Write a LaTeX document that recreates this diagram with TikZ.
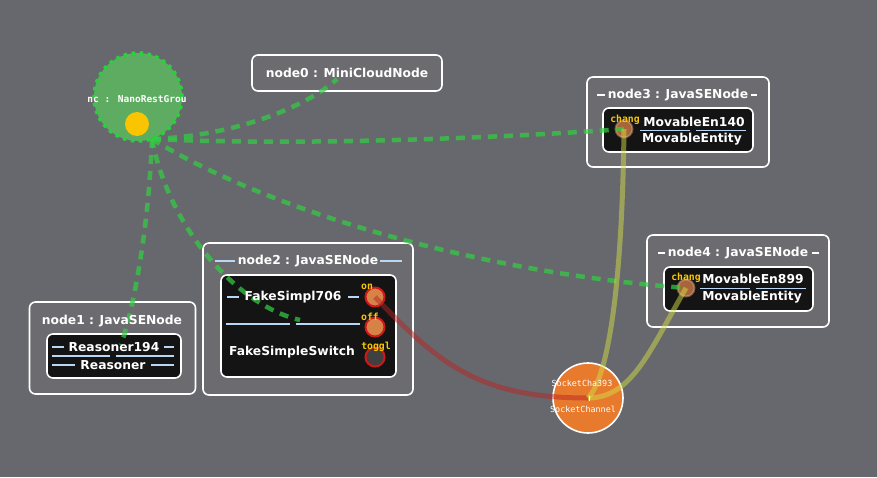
\documentclass[tikz,border=0pt]{standalone}
\usepackage{fontspec}
\setmainfont{DejaVu Sans}
\newfontfamily\mymono{DejaVu Sans Mono}
\definecolor{bg}{RGB}{103,104,109}
\definecolor{boxfill}{RGB}{108,108,112}
\definecolor{hubgreen}{RGB}{51,204,68}
\definecolor{circgreen}{RGB}{92,180,96}
\definecolor{dotgreen}{RGB}{40,210,60}
\definecolor{labyellow}{RGB}{250,200,0}
\definecolor{decoblue}{RGB}{185,215,245}
\definecolor{sockorange}{RGB}{232,122,46}
\definecolor{redline}{RGB}{185,35,35}
\definecolor{oliveline}{RGB}{210,220,70}
\definecolor{portorange}{RGB}{215,130,70}
\definecolor{portred}{RGB}{205,25,25}
\begin{document}
\begin{tikzpicture}[x=1pt,y=-1pt,
  outerbox/.style={draw=white, line width=1.6pt, rounded corners=6pt, fill=boxfill, inner sep=0pt},
  innerbox/.style={draw=white, line width=1.6pt, rounded corners=6pt, fill=black!92, inner sep=0pt},
  ttl/.style={text=white, font=\bfseries\fontsize{12.3}{14}\selectfont, inner sep=0pt},
  comp/.style={text=white, font=\bfseries\fontsize{12.3}{14}\selectfont, inner sep=0pt},
  plab/.style={text=labyellow, font=\mymono\bfseries\fontsize{9.8}{10}\selectfont, inner sep=0pt},
  deco/.style={draw=decoblue, line width=1.2pt},
  hubline/.style={draw=hubgreen, line width=4.5pt, dash pattern=on 9pt off 7pt, opacity=0.72},
  bindline/.style={line width=5pt, opacity=0.5},
  portA/.style={circle, fill=portorange, fill opacity=0.75, draw=portorange!60!white, draw opacity=0.4, line width=2pt, minimum size=17pt, inner sep=0pt},
  portB/.style={circle, draw=portred, line width=2pt, minimum size=19pt, inner sep=0pt, fill=#1},
  socktxt/.style={text=white, font=\mymono\fontsize{8.4}{9}\selectfont, inner sep=0pt}
]
% background
\fill[bg] (0,0) rectangle (877,477);
\useasboundingbox (0,0) rectangle (877,477);

% hub group
\node[circle, minimum size=88pt, fill=circgreen, fill opacity=0.9, draw=dotgreen, line width=3.5pt, dash pattern=on 3.5pt off 4.5pt, inner sep=0pt] (hubc) at (138,97) {};
\node[circle, fill=labyellow!95!orange, minimum size=24pt, inner sep=0pt] (hubdot) at (137,124) {};
\coordinate (hub) at (152,139);

% boxes
\node[outerbox, minimum width=190pt, minimum height=36pt] (n0) at (347,73) {};
\node[outerbox, minimum width=182pt, minimum height=90pt] (n3) at (678,122) {};
\node[innerbox, minimum width=150pt, minimum height=44pt] (n3i) at (678,130) {};
\node[outerbox, minimum width=182pt, minimum height=92pt] (n4) at (738,281) {};
\node[innerbox, minimum width=149pt, minimum height=44pt] (n4i) at (738.5,289) {};
\node[outerbox, minimum width=210pt, minimum height=152pt] (n2) at (308,319) {};
\node[innerbox, minimum width=175pt, minimum height=102pt] (n2i) at (308.5,326) {};
\node[outerbox, minimum width=166pt, minimum height=92pt] (n1) at (112.5,348) {};
\node[innerbox, minimum width=134pt, minimum height=44pt] (n1i) at (114,356) {};

% socket channel
\node[circle, minimum size=70pt, fill=sockorange, draw=white, line width=1.6pt, inner sep=0pt] (sock) at (588,398) {};

% ports
\node[portA] (p3) at (624,129) {};
\node[portA] (p4) at (686,288) {};
\node[portB={portorange}] (pon) at (375,297) {};
\node[portB={portorange}] (poff) at (375,327) {};
\node[portB={black!75}] (ptog) at (375,357) {};

% connector ends inside components
\coordinate (c0) at (337,79);
\coordinate (c1) at (121,345);
\coordinate (c2) at (300,320);

% green dashed hub lines
\draw[hubline] (hub) .. controls (240,136) and (312,103) .. (c0);
\draw[hubline] (hub) .. controls (300,146) and (500,138) .. (p3.center);
\draw[hubline] (hub) .. controls (250,200) and (450,270) .. (p4.center);
\draw[hubline] (hub) .. controls (168,225) and (235,305) .. (c2);
\draw[hubline] (hub) .. controls (149,220) and (136,300) .. (c1);

% bindings to socket
\draw[bindline, draw=redline] (pon.center) .. controls (440,365) and (480,398) .. (sock.center);
\draw[bindline, draw=oliveline] (p3.center) .. controls (622,300) and (606,380) .. (sock.center);
\draw[bindline, draw=oliveline] (p4.center) .. controls (650,350) and (632,398) .. (sock.center);
\draw[white, line width=0.8pt] (589,396) -- (589,401);

% hub text
\node[text=white, font=\mymono\bfseries\fontsize{9.5}{10}\selectfont, inner sep=0pt] (hubt) at (137,99) {nc : NanoRestGrou};

% titles
\node[ttl] (t0) at (347,73) {node0 : MiniCloudNode};
\node[ttl] (t3) at (678,95) {node3 : JavaSENode};
\draw[deco, draw=white] (597,95) -- (605,95);
\draw[deco, draw=white] (751,95) -- (757,95);
\node[ttl] (t4) at (738,253) {node4 : JavaSENode};
\draw[deco, draw=white] (658,253) -- (665,253);
\draw[deco, draw=white] (812,253) -- (819,253);
\node[ttl] (t2) at (308,261) {node2 : JavaSENode};
\draw[deco] (215,261) -- (235,261);
\draw[deco] (380,261) -- (402,261);
\node[ttl] (t1) at (112,321) {node1 : JavaSENode};

% node3 contents
\node[plab] (l3) at (625,120) {chang};
\node[comp] (m3a) at (694,122) {MovableEn140};
\draw[deco] (640,130.5) -- (690,130.5);
\draw[deco] (696,130.5) -- (746,130.5);
\node[comp] (m3b) at (692,139) {MovableEntity};

% node4 contents
\node[plab] (l4) at (686,278) {chang};
\node[comp] (m4a) at (753,279) {MovableEn899};
\draw[deco] (700,288.5) -- (750,288.5);
\draw[deco] (756,288.5) -- (806,288.5);
\node[comp] (m4b) at (752,297) {MovableEntity};

% node2 contents
\node[comp] (f2a) at (293,297) {FakeSimpl706};
\draw[deco] (227,297) -- (239,297);
\draw[deco] (348,297) -- (359,297);
\draw[deco] (226,324) -- (290,324);
\draw[deco] (296,324) -- (360,324);
\node[comp] (f2b) at (292,352) {FakeSimpleSwitch};
\node[plab] (lon) at (367,287) {on};
\node[plab] (loff) at (370,317) {off};
\node[plab] (ltog) at (376,347) {toggl};

% node1 contents
\node[comp] (r1a) at (114,347) {Reasoner194};
\draw[deco] (52,347) -- (64,347);
\draw[deco] (164,347) -- (174,347);
\draw[deco] (52,356) -- (110,356);
\draw[deco] (116,356) -- (174,356);
\node[comp] (r1b) at (113,365) {Reasoner};
\draw[deco] (52,365) -- (75,365);
\draw[deco] (151,365) -- (174,365);

% socket texts
\node[socktxt] (s1) at (582,383) {SocketCha393};
\node[socktxt] (s2) at (583,409) {SocketChannel};
\end{tikzpicture}
\end{document}
